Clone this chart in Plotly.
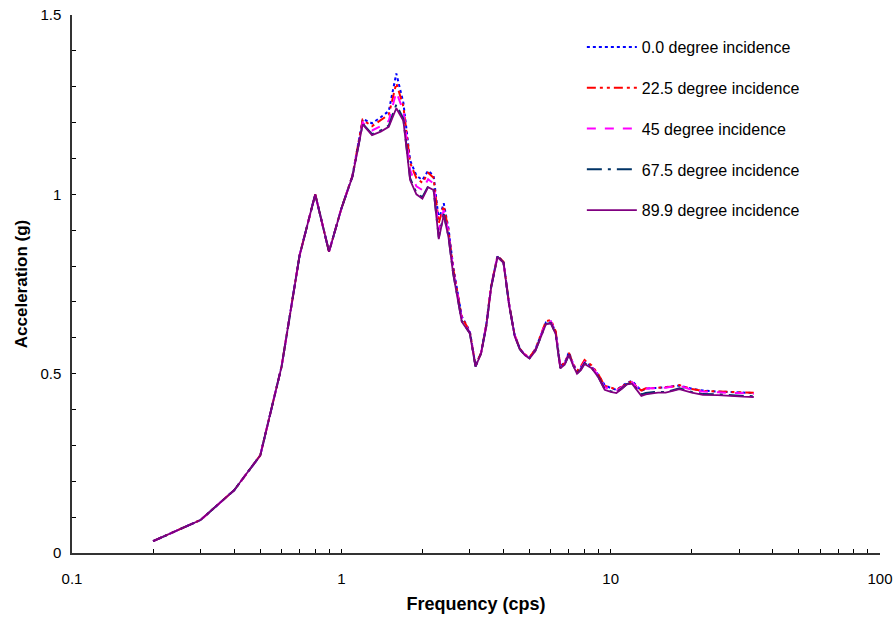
import plotly.graph_objects as go

# Response-spectrum frequencies (cps)
freq = [0.2, 0.3, 0.4, 0.5, 0.6, 0.7, 0.8, 0.9, 1.0, 1.1,
        1.2, 1.3, 1.4, 1.5, 1.6, 1.7, 1.8, 1.9, 2.0, 2.1,
        2.2, 2.3, 2.4, 2.5, 2.6, 2.8, 3.0, 3.15, 3.3, 3.45,
        3.6, 3.8, 4.0, 4.2, 4.4, 4.6, 4.8, 5.0, 5.25, 5.5,
        5.75, 6.0, 6.25, 6.5, 6.75, 7.0, 7.25, 7.5, 7.75, 8.0,
        8.5, 9.0, 9.5, 10.0, 10.5, 11.0, 11.5, 12.0, 12.5, 13.0,
        13.5, 14.0, 14.5, 15.0, 16.0, 17.0, 18.0, 20.0, 22.0, 25.0,
        28.0, 31.0, 34.0]

# Spectral acceleration (g) for each incidence angle
acc_00 = [0.033, 0.092, 0.175, 0.272, 0.52, 0.83, 1.0, 0.84, 0.96, 1.052,
          1.21, 1.198, 1.215, 1.232, 1.337, 1.255, 1.095, 1.052, 1.04, 1.066,
          1.052, 0.93, 0.975, 0.905, 0.80, 0.66, 0.618, 0.522, 0.558, 0.635,
          0.745, 0.828, 0.812, 0.692, 0.608, 0.57, 0.552, 0.545, 0.568, 0.606,
          0.643, 0.645, 0.616, 0.522, 0.53, 0.56, 0.528, 0.507, 0.518, 0.535,
          0.52, 0.497, 0.468, 0.46, 0.455, 0.465, 0.475, 0.48, 0.465, 0.452,
          0.458, 0.46, 0.46, 0.46, 0.462, 0.465, 0.467, 0.458, 0.453, 0.45,
          0.448, 0.447, 0.446]

acc_225 = [0.033, 0.092, 0.175, 0.272, 0.52, 0.83, 1.0, 0.84, 0.96, 1.052,
           1.208, 1.19, 1.207, 1.222, 1.31, 1.245, 1.088, 1.045, 1.032, 1.06,
           1.046, 0.92, 0.968, 0.90, 0.795, 0.658, 0.617, 0.522, 0.558, 0.635,
           0.745, 0.828, 0.812, 0.693, 0.608, 0.57, 0.554, 0.546, 0.568, 0.607,
           0.646, 0.65, 0.618, 0.52, 0.53, 0.558, 0.528, 0.507, 0.52, 0.538,
           0.523, 0.498, 0.466, 0.462, 0.455, 0.463, 0.474, 0.478, 0.463, 0.453,
           0.459, 0.459, 0.46, 0.46, 0.461, 0.464, 0.468, 0.457, 0.452, 0.45,
           0.449, 0.448, 0.447]

acc_45 = [0.033, 0.092, 0.175, 0.272, 0.52, 0.83, 1.0, 0.84, 0.96, 1.051,
          1.20, 1.178, 1.19, 1.205, 1.285, 1.232, 1.068, 1.022, 1.012, 1.042,
          1.03, 0.90, 0.956, 0.893, 0.79, 0.653, 0.615, 0.521, 0.557, 0.633,
          0.743, 0.827, 0.811, 0.691, 0.607, 0.569, 0.553, 0.544, 0.566, 0.604,
          0.643, 0.646, 0.614, 0.518, 0.528, 0.556, 0.526, 0.504, 0.515, 0.533,
          0.519, 0.494, 0.462, 0.457, 0.452, 0.462, 0.473, 0.477, 0.462, 0.452,
          0.458, 0.459, 0.459, 0.459, 0.461, 0.464, 0.466, 0.455, 0.45, 0.448,
          0.446, 0.445, 0.444]

acc_675 = [0.033, 0.092, 0.175, 0.272, 0.52, 0.83, 1.0, 0.84, 0.96, 1.05,
           1.197, 1.168, 1.178, 1.192, 1.25, 1.21, 1.045, 1.004, 0.992, 1.022,
           1.014, 0.88, 0.945, 0.883, 0.782, 0.647, 0.613, 0.52, 0.556, 0.631,
           0.741, 0.826, 0.81, 0.69, 0.606, 0.568, 0.552, 0.543, 0.564, 0.602,
           0.639, 0.641, 0.611, 0.516, 0.526, 0.554, 0.524, 0.501, 0.512, 0.529,
           0.516, 0.491, 0.457, 0.451, 0.448, 0.459, 0.471, 0.473, 0.457, 0.442,
           0.446, 0.448, 0.449, 0.449, 0.449, 0.454, 0.459, 0.449, 0.443, 0.442,
           0.439, 0.438, 0.437]

acc_899 = [0.033, 0.092, 0.175, 0.272, 0.52, 0.83, 1.0, 0.84, 0.96, 1.05,
           1.195, 1.165, 1.175, 1.188, 1.24, 1.205, 1.04, 1.0, 0.988, 1.02,
           1.012, 0.875, 0.942, 0.88, 0.78, 0.645, 0.612, 0.52, 0.555, 0.63,
           0.74, 0.825, 0.81, 0.69, 0.605, 0.568, 0.552, 0.542, 0.563, 0.60,
           0.638, 0.64, 0.61, 0.515, 0.525, 0.553, 0.523, 0.50, 0.51, 0.527,
           0.515, 0.49, 0.455, 0.449, 0.446, 0.458, 0.47, 0.472, 0.455, 0.438,
           0.442, 0.445, 0.446, 0.447, 0.447, 0.452, 0.457, 0.447, 0.441, 0.44,
           0.437, 0.436, 0.435]

series_names = ["0.0 degree incidence", "22.5 degree incidence", "45 degree incidence",
                "67.5 degree incidence", "89.9 degree incidence"]
series_values = [acc_00, acc_225, acc_45, acc_675, acc_899]
series_colors = ["#0000FF", "#FF0000", "#FF00FF", "#003366", "#800080"]
series_dash = ["dot", "9px,4px,3px,4px,3px,4px", "dash", "longdashdot", "solid"]

# Axis ticks: every integer multiple within each decade, labels at decades only
x_tickvals = [m * 10 ** e for e in (-1, 0, 1) for m in range(1, 10)] + [100]
x_ticktext = ["0.1"] + [""] * 8 + ["1"] + [""] * 8 + ["10"] + [""] * 8 + ["100"]
y_tickvals = [i / 10 for i in range(16)]
y_ticktext = ["0", "", "", "", "", "0.5", "", "", "", "", "1", "", "", "", "", "1.5"]

FONT = "Arial, 'Liberation Sans', sans-serif"

fig = go.Figure()
for i, (name, vals, col, dash) in enumerate(zip(series_names, series_values,
                                                 series_colors, series_dash)):
    fig.add_trace(go.Scatter(
        x=freq, y=vals, mode="lines", name=name,
        legendgroup=f"g{i}",
        line=dict(color=col, width=2 if i < 4 else 1.8, dash=dash),
    ))

fig.update_layout(
    width=895, height=622,
    margin=dict(l=72, r=15, t=15, b=69),
    paper_bgcolor="white", plot_bgcolor="white",
    font=dict(family=FONT, size=15, color="black"),
    showlegend=True,
    legend=dict(
        x=0.631, y=0.972, xanchor="left", yanchor="top",
        font=dict(family=FONT, size=16, color="black"),
        bgcolor="rgba(0,0,0,0)", tracegroupgap=17, itemwidth=50,
    ),
    xaxis=dict(
        type="log", range=[-1, 2], automargin=False,
        tickmode="array", tickvals=x_tickvals, ticktext=x_ticktext,
        ticks="inside", ticklen=4, tickcolor="black", tickwidth=1,
        ticklabelstandoff=11,
        showline=True, linecolor="#333333", linewidth=1.5,
        showgrid=False, zeroline=False,
        title=dict(text="<b>Frequency (cps)</b>", font=dict(size=18), standoff=12),
    ),
    yaxis=dict(
        range=[0, 1.5], automargin=False,
        tickmode="array", tickvals=y_tickvals, ticktext=y_ticktext,
        ticks="inside", ticklen=4, tickcolor="black", tickwidth=1,
        ticklabelstandoff=6,
        showline=True, linecolor="#333333", linewidth=1.5,
        showgrid=False, zeroline=False,
        title=dict(text="<b>Acceleration (g)</b>", font=dict(size=17), standoff=8),
    ),
)

fig.write_html("out.html")
